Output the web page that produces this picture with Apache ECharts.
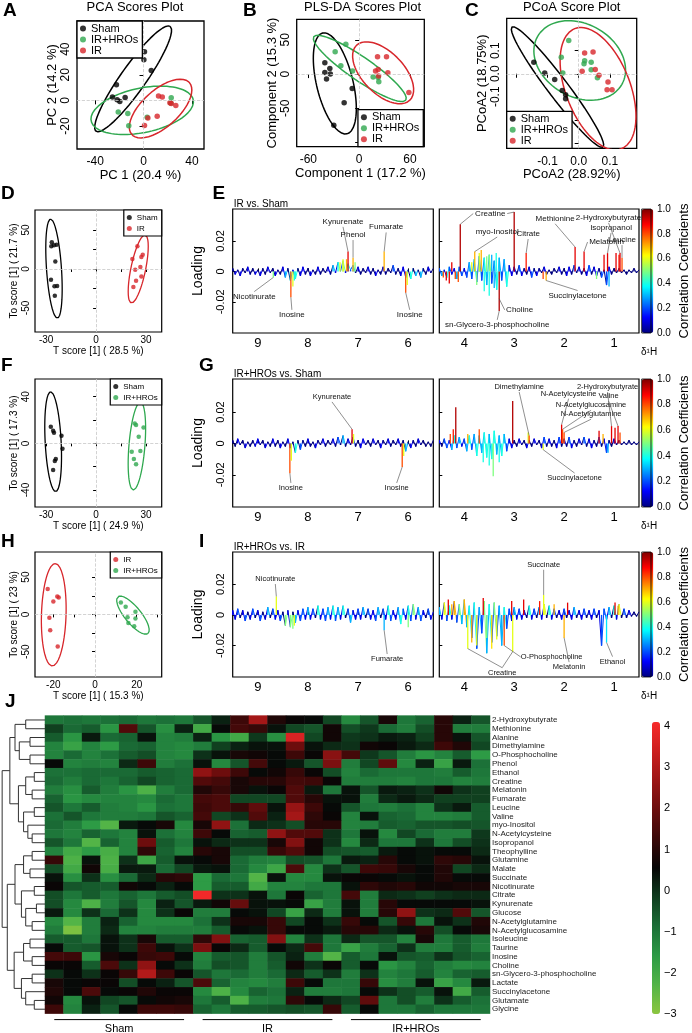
<!DOCTYPE html>
<html>
<head>
<meta charset="utf-8">
<script src="https://cdn.jsdelivr.net/npm/echarts@6/dist/echarts.min.js"></script>
<style>
  html, body { margin: 0; padding: 0; background: #fff; }
  #main { width: 692px; height: 1033px; }
</style>
</head>
<body>
<div id="main"></div>
<script>
var FONT = 'Liberation Sans';

// ---------- score plots (A, B, C, D, F, H) ----------
var pcaSham = [[0.8,38],[0.3,31.8],[6.4,23.3],[-22.4,12.1],[-25.7,2.6],[-21.8,0.5],[-19.6,-0.8],[-15.2,2.3]];
var pcaHro = [[-20.9,-9.0],[-13,-10.3],[-12.2,-19.9],[3,-13.2],[22.9,2.1],[22.4,-2.1]];
var pcaIr = [[12.4,3.4],[15.5,2.6],[21.8,-1.8],[23,-2.4],[26.7,-4.1],[11.3,-12.4],[3.6,-13.7],[0.8,-19.6]];
// ellipse: centre x, centre y, semi-axis vector a, semi-axis vector b
var pcaShamEll = [-8.6,16.8,30.6,41.0,8.6,-5.6];
var pcaHroEll = [-1.1,-7.8,42.2,8.3,3.8,-17];
var pcaIrEll = [14.1,-6.4,23.7,20.4,10.3,-10.5];

var plsSham = [[-40.5,16.5],[-34.6,8.3],[-40.5,2.4],[-34,0],[-38.5,-7.3],[-8.2,-21],[-17.7,-42],[-29.9,-74.6]];
var plsHro = [[-15.7,43.4],[-28.3,32.6],[-21.6,12.1],[-7.8,4.4],[16.5,-4.4],[22.4,-4.9],[23.2,-11.2]];
var plsIr = [[21.7,25.3],[32.3,25.3],[19.4,4.4],[22.5,6.8],[33.9,1.9],[22.9,-2.9],[58.7,-26.8]];
var plsShamEll = [-28.7,-13.6,14.4,-73.6,20.9,6.3];
var plsHroEll = [0.8,8.3,54.3,-46.3,-7.8,-14];
var plsIrEll = [28.3,1.9,31.5,-40,17.5,21.1];

var pcoaSham = [[-0.144,0.05],[-0.109,0.003],[-0.077,-0.025],[-0.053,-0.073],[-0.042,-0.091],[-0.042,-0.109],[-0.036,-0.178]];
var pcoaHro = [[-0.032,0.145],[-0.056,0.072],[-0.051,0.003],[0.017,0.043],[0.019,0.057],[0.04,0.05],[0.04,0.017],[0.06,-0.017]];
var pcoaIr = [[0.019,0.09],[0.046,0.094],[0.011,0.011],[0.053,0.019],[0.065,-0.007],[0.094,-0.036],[0.091,-0.07],[0.107,-0.07]];
var pcoaShamEll = [-0.068,-0.058,0.146,-0.261,0.0255,0.0264];
var pcoaHroEll = [0.0032,0.0578,0.139,-0.094,0.048,0.145];
var pcoaIrEll = [0.062,-0.065,0.0748,-0.261,0.096,0.051];

var oplsDSham = [[-26.6,34.1],[-26.9,29],[-25.3,30.3],[-23.7,31.2],[-24.5,9.7],[-27.1,-13.7],[-25,-22.3],[-23.4,-21.8],[-24.8,-34.2]];
var oplsDIr = [[24.8,29],[28,18.3],[27.2,15.4],[21.8,12.8],[26.6,2.6],[23.5,-0.9],[27.2,-9.5],[24,-15],[22.4,-23]];
var oplsDShamEll = [-25.3,0.4,-2.0,63.5,4.5,0];
var oplsDIrEll = [25.3,0,4.0,43.6,4.5,0];

var oplsFSham = [[-27.2,14.2],[-25.8,10.8],[-25.3,9.1],[-20.8,6.5],[-20.2,-4.6],[-24.2,-13.5],[-24.8,-15.2],[-25.8,-22.9]];
var oplsFHro = [[23.2,17.1],[24,15.7],[28.5,13.7],[25.6,5.7],[21.4,-7.2],[26.6,-6.6],[22.7,-13.5],[24,-18]];
var oplsFShamEll = [-25.8,1.4,-1.5,42.8,4.8,0];
var oplsFHroEll = [24.5,-2.3,2.1,37.7,4.8,0];

var oplsHIr = [[-22.7,34.1],[-18.1,24],[-20,17.2],[-17.4,22.6],[-21.9,-4.6],[-21.5,-21.4],[-17.9,-43.2]];
var oplsHHro = [[12.4,15.8],[14.7,10.4],[19.4,3.5],[15.6,-3.7],[19.4,-5.5],[16,-11.5],[18.8,-16]];
var oplsHIrEll = [-19.8,-0.5,0.7,68.7,5.9,0];
var oplsHHroEll = [18.2,-1,7.2,-24.6,3.0,7.0];

// ---------- loading plots (E, G, I): baseline in 0.001 units, corr in tenths, 0.05 ppm apart ----------
var eNoiseL = [2,-2,1,-3,2,-1,3,-2,2,-2, 1,-3,2,-2,3,-1,2,-3,1,-2, 3,-4,2,-6,1,-5,2,-3,3,-2, 2,-3,1,-2,3,-2,2,-1,3,-2,
  4,-1,6,0,7,-1,5,1,4,-1, 3,-2,2,-1,3,-2,2,-3,1,-2, 3,-2,2,-1,4,-2,2,-3,3,-4, 1,-5,2,-3,1,-4,2,-2,3,-1, 2];
var eCorrL = [0,1,0,1,0,0,1,0,0,1, 0,1,0,0,1,0,0,1,0,0, 1,3,0,4,1,4,0,1,1,0, 0,1,0,0,1,0,0,0,1,0,
  3,1,4,2,5,1,4,2,3,0, 1,0,0,0,1,0,0,1,0,0, 1,0,0,0,2,0,0,1,1,3, 0,4,0,3,0,3,0,0,1,0, 0];
var eNoiseR = [2,-3,1,-4,3,-2,2,-5,3,-3, 2,-4,6,-5,8,-7,10,-6,9,-9, 11,-8,7,-12,9,-6,8,-10,4,-3, 3,-2,4,-3,2,-2,3,-4,2,-3,
  2,-1,3,-2,1,-2,2,-1,3,-2, 2,-3,3,-2,4,-1,3,-2,2,-3, 4,-2,3,-3,2,-4,1,-9,3,-2, 2,-1,2,-1,1,-2,1,-1,2,-1, 1];
var eCorrR = [2,3,1,4,2,1,1,3,2,2, 1,2,3,2,4,2,3,2,4,3, 5,2,3,4,3,2,3,4,1,1, 1,0,2,1,0,0,1,2,0,1,
  0,0,1,0,0,0,0,0,1,0, 0,1,1,0,2,0,1,0,0,1, 2,0,1,1,0,2,0,2,1,0, 0,0,0,0,0,0,0,0,0,0, 0];
var ePeaksL = [[8.69,-0.004,0.5],[8.34,-0.017,0.8],[8.3,-0.01,0.6],[8.27,-0.006,0.4],[7.36,0.006,0.6],[7.3,0.008,0.6],
  [7.23,0.008,0.7],[7.2,0.013,0.9],[7.1,0.009,0.7],[7.06,0.006,0.5],[6.48,0.013,0.7],[6.05,-0.014,0.8],[6.02,-0.009,0.6]];
var ePeaksR = [[4.42,-0.004,0.8],[4.36,-0.006,0.9],[4.3,-0.008,0.9],[4.25,0.006,0.9],[4.18,-0.005,0.8],[4.12,-0.007,0.8],
  [4.08,0.031,0.95],[3.85,0.006,0.6],[3.79,0.013,0.7],[3.75,-0.009,0.5],[3.7,0.012,0.6],[3.66,0.014,0.7],[3.6,-0.013,0.4],
  [3.55,0.01,0.5],[3.5,-0.016,0.4],[3.45,0.011,0.3],[3.4,-0.011,0.3],[3.36,0.012,0.4],[3.3,-0.026,0.95],[3.0,0.039,0.95],
  [2.76,0.012,0.85],[2.42,-0.005,0.8],[2.36,-0.006,0.7],[1.78,0.016,0.9],[1.6,0.013,0.9],[1.35,-0.005,0.5],
  [1.2,0.011,0.9],[1.13,0.012,0.9],[1.1,-0.01,0.3],[0.96,0.012,0.9],[0.9,0.011,0.85],[0.88,0.012,0.9],[0.84,0.009,0.8]];
// name, peak ppm, peak loading, label ppm, label loading ('~' = leader only)
var eLabelsL = [['Nicotinurate',8.69,-0.004,9.07,-0.0167],['Inosine',8.34,-0.017,8.32,-0.0287],['Kynurenate',7.2,0.013,7.3,0.0327],
  ['Phenol',7.1,0.009,7.1,0.024],['Fumarate',6.48,0.013,6.44,0.029],['Inosine',6.05,-0.014,5.97,-0.0287]];
var eLabelsR = [['Creatine',4.08,0.031,3.48,0.038],['~Creatine',3.0,0.039,3.48,0.038],['myo-Inositol',3.79,0.013,3.34,0.026],
  ['Citrate',2.76,0.012,2.72,0.0247],['Methionine',1.78,0.016,2.18,0.0347],['2-Hydroxybutyrate',0.88,0.012,1.11,0.0353],
  ['Isopropanol',1.13,0.012,1.06,0.0287],['Melatonin',1.6,0.013,1.15,0.0193],['Leucine',0.84,0.009,0.84,0.0207],
  ['Choline',3.3,-0.018,2.89,-0.0253],['sn-Glycero-3-phosphocholine',3.3,-0.026,3.34,-0.0353],['Succinylacetone',2.36,-0.006,1.73,-0.016]];

var gNoiseL = [2,-2,3,-1,2,-3,1,-2,2,-2, 3,-1,2,-3,1,-2,3,-2,2,-3, 1,-2,3,-3,1,-6,2,-4,2,-2, 3,-2,1,-3,2,-1,3,-2,2,-1,
  3,-2,4,-1,5,-2,3,-1,4,-2, 2,-3,3,-1,2,-2,3,-1,2,-3, 2,-1,3,-2,2,-1,3,-2,2,-5, 1,-3,2,-2,3,-1,2,-2,1,-2, 2];
var gCorrL = [0,0,1,0,0,1,0,0,0,1, 1,0,0,1,0,0,1,0,0,1, 0,0,1,2,0,4,0,2,0,0, 1,0,0,1,0,0,1,0,0,0,
  1,0,2,0,3,0,1,0,2,0, 0,1,1,0,0,0,1,0,0,1, 0,0,1,0,0,0,1,0,0,3, 0,1,0,0,1,0,0,0,0,0, 0];
var gNoiseR = [2,-2,3,-3,2,-4,5,-3,4,-2, 3,-5,5,-4,6,-8,5,-6,7,-9, 6,-10,8,-7,5,-8,6,-5,3,-3, 2,-2,3,-1,2,-3,2,-2,3,-1,
  2,-3,4,-2,3,-2,2,-3,4,-2, 3,-2,4,-3,2,-2,3,-1,4,-2, 3,-3,2,-2,4,-2,3,-6,2,-2, 3,-1,2,-1,1,-1,2,-1,1,-1, 1];
var gCorrR = [1,0,2,2,1,3,4,2,3,1, 2,3,4,2,3,4,3,3,4,4, 3,4,4,3,3,4,3,2,1,1, 0,0,1,0,0,1,0,0,1,0,
  0,1,2,0,1,0,0,1,2,0, 1,0,2,1,0,0,1,0,2,0, 1,1,0,0,2,0,1,2,0,0, 1,0,0,0,0,0,0,0,0,0, 0];
var gPeaksL = [[8.36,-0.019,0.8],[8.33,-0.011,0.6],[7.12,0.009,0.9],[7.09,0.006,0.6],[6.12,-0.015,0.8],[6.09,-0.008,0.6]];
var gPeaksR = [[4.28,0.006,0.8],[4.22,0.009,0.85],[4.17,0.023,0.95],[3.93,0.006,0.7],[3.7,0.009,0.8],[3.62,-0.012,0.4],
  [3.5,-0.014,0.4],[3.42,-0.021,0.5],[3.3,-0.012,0.4],[3.03,0.027,0.95],[2.72,0.007,0.6],[2.7,0.005,0.8],[2.42,-0.004,0.6],
  [2.05,0.012,0.9],[2.03,0.009,0.8],[2.0,0.007,0.8],[1.3,0.008,0.9],[1.22,0.006,0.7],[1.12,-0.006,0.3],[1.05,0.011,0.9],
  [0.98,0.01,0.9],[0.92,0.011,0.9],[0.88,0.007,0.8]];
var gLabelsL = [['Kynurenate',7.12,0.009,7.52,0.0295],['Inosine',8.36,-0.019,8.34,-0.0283],['Inosine',6.12,-0.015,6.23,-0.0283]];
var gLabelsR = [['Dimethylamine',2.7,0.005,2.9,0.0358],['N-Acetylcysteine',2.05,0.012,1.91,0.0316],
  ['N-Acetylglucosamine',2.03,0.009,1.46,0.0242],['N-Acetylglutamine',2.0,0.007,1.46,0.0185],
  ['2-Hydroxybutyrate',1.05,0.011,1.13,0.0358],['Valine',0.92,0.011,1.11,0.030],['Succinylacetone',2.42,-0.004,1.79,-0.022]];

var iNoiseL = [3,-3,4,-2,3,-4,2,-3,4,-2, 3,-4,2,-3,5,-2,4,-3,3,-4, 2,-7,3,-8,2,-5,3,-4,4,-3, 5,-3,4,-2,6,-3,4,-4,5,-3,
  6,-4,5,-3,6,-2,4,-5,3,-3, 4,-3,5,-2,4,-3,3,-4,5,-2, 4,-3,6,-4,3,-3,5,-6,4,-3, 6,-4,7,-3,5,-4,3,-2,4,-3, 2];
var iCorrL = [1,1,2,0,1,2,0,1,2,0, 1,2,0,1,3,0,2,1,1,2, 0,5,1,5,0,3,1,2,2,1, 3,1,2,0,4,1,2,2,3,1,
  4,2,3,1,4,0,2,3,1,1, 2,1,3,0,2,1,1,2,3,0, 2,1,4,2,1,1,3,4,2,1, 4,2,5,1,3,2,1,0,2,1, 0];
var iNoiseR = [5,-3,8,-4,6,-3,9,-5,7,-6, 10,-8,6,-15,8,-22,5,-12,9,-25, 7,-18,8,-14,6,-20,5,-9,4,-4, 5,-3,4,-3,3,-2,6,-3,4,-2,
  5,-3,7,-2,6,-3,4,-2,3,-3, 4,-2,3,-3,5,-2,3,-3,4,-2, 3,-3,4,-2,3,-20,4,-3,5,-2, 6,-3,7,-2,4,-2,3,-1,2,-1, 2];
var iCorrR = [3,1,6,2,4,1,7,2,5,3, 7,3,4,2,4,2,3,2,5,3, 4,2,5,2,3,3,4,2,2,1, 3,1,2,1,1,0,4,1,2,0,
  3,1,6,0,4,1,2,0,1,1, 2,0,1,1,3,0,1,1,2,0, 1,1,2,0,1,2,2,1,3,0, 4,1,6,0,2,0,1,0,0,0, 0];
var iPeaksL = [[8.63,0.012,0.6],[8.3,-0.009,0.5],[8.27,-0.007,0.6],[6.48,-0.01,0.3],[6.0,-0.008,0.5]];
var iPeaksR = [[4.32,0.010,0.9],[4.25,0.007,0.7],[3.93,-0.022,0.6],[3.85,-0.018,0.7],[3.75,-0.02,0.6],[3.62,0.011,0.9],
  [3.55,-0.015,0.5],[3.45,-0.022,0.65],[3.35,-0.016,0.6],[3.2,-0.02,0.8],[3.05,0.009,0.9],[3.03,-0.024,0.6],[2.81,0.01,0.9],
  [2.49,0.009,0.85],[2.41,0.013,0.6],[2.2,0.007,0.7],[2.0,-0.015,0.7],[1.93,0.008,0.9],[1.15,-0.018,0.35],[0.98,0.008,0.9],
  [0.92,0.006,0.7]];
var iLabelsL = [['Nicotinurate',8.63,0.012,8.65,0.0233],['Fumarate',6.48,-0.01,6.42,-0.0287]];
var iLabelsR = [['Succinate',2.41,0.013,2.41,0.0326],['Creatine',3.93,-0.022,3.24,-0.0376],['~Creatine',3.03,-0.024,3.24,-0.0376],
  ['O-Phosphocholine',3.2,-0.02,2.25,-0.0274],['Melatonin',2.0,-0.015,1.9,-0.034],['Ethanol',1.15,-0.018,1.03,-0.0304]];

// ---------- heatmap (J) ----------
var metabolites = ['2-Hydroxybutyrate','Methionine','Alanine','Dimethylamine','O-Phosphocholine','Phenol','Ethanol',
  'Creatine','Melatonin','Fumarate','Leucine','Valine','myo-Inositol','N-Acetylcysteine','Isopropanol','Theophylline',
  'Glutamine','Malate','Succinate','Nicotinurate','Citrate','Kynurenate','Glucose','N-Acetylglutamine',
  'N-Acetylglucosamine','Isoleucine','Taurine','Inosine','Choline','sn-Glycero-3-phosphocholine','Lactate',
  'Succinylacetone','Glutamate','Glycine'];
var groupNames = ['Sham','IR','IR+HROs'];
var perGroup = 8;
var heatValues = [
  [-1,-0.9,-1,-0.9,-0.8,-1,-0.9,-1, -0.5,0.2,1.3,2.8,0.9,0.6,0.5,-0.3, -1.3,-0.5,0.8,-1.0,-0.7,1.0,0.2,-0.5],
  [-0.2,-0.8,-0.6,-1.5,1.6,-0.5,-1.4,0.2, -2.0,0.5,1.4,1.2,0.4,-0.3,-0.5,0.7, -0.4,-0.1,-0.8,-1.1,-0.4,1.0,-1.1,-1.1],
  [-0.6,-1.5,0.3,-0.8,-0.7,0.4,-1.2,-1.1, 0.2,-1.5,-2.0,-0.1,-1.4,3.6,-0.3,0.7, -0.1,0,0.3,0.2,-0.2,1.0,0.4,-0.5],
  [-1.2,-1.8,-1.2,-1.6,-0.8,-0.7,-1.2,-1.3, -1.1,-0.2,0.2,0.4,0.4,2.0,0.4,0.1, 0.0,0.7,0.6,0.3,0.1,1.3,0.9,-0.3],
  [-1.2,-0.8,-1.2,-0.9,-0.6,-0.4,-1.2,-1.3, 0,0.4,0.8,0.7,0.5,1.3,0.6,2.4, 1.4,-0.1,-0.5,-1.1,-1.5,-1.2,-0.6,-1.6],
  [0.5,-1.2,-1.1,-1.2,0.1,1.3,-1.1,-0.9, 0.4,-1.3,-0.5,1.4,0.5,0.3,-0.5,2.2, -1.1,-0.3,1.8,-1.3,0.2,-1.8,0.3,-0.9],
  [-0.9,-0.9,-0.8,-0.8,-0.8,-0.6,-0.7,-0.8, 2.5,2.0,1.3,0.5,0.7,1.2,0.6,-0.4, -1.2,-0.8,-1.0,-1.0,-1.0,-1.1,-0.6,-1.0],
  [-0.8,-1.1,-0.8,-1.0,-0.7,-0.3,-0.7,-0.8, 1.6,1.4,0.8,1.0,1.0,1.4,1.3,0.6, -1.1,-1.1,-1.1,-1.2,-1.0,-1.0,-1.2,-1.1],
  [-1.1,-1.4,-0.6,-1.1,-1.5,-2.2,-1.1,-0.8, 0.9,1.2,0.8,0.4,0.6,1.6,0.3,-1.0, 0.4,-0.5,0.3,0.2,0,0.7,0.0,-0.2],
  [-0.7,-1.5,-1.3,-1.2,-1.2,-1.3,-0.8,-1.0, 1.4,1.5,-0.3,-0.3,-0.3,1.6,1.0,0.4, 0.4,-1.1,0.1,0.3,0.1,-0.2,-0.2,-0.2],
  [-0.5,-1.0,-0.6,-1.1,-1.2,-1.5,-0.9,-1.0, 1.3,1.5,1.2,1.8,0.4,2.6,1.3,0.5, -0.5,-1.0,-1.1,-0.9,-1.2,0.0,0.3,-0.6],
  [-0.9,-0.5,-1.0,-1.1,-1.1,-1.0,-0.5,-0.7, 1.4,-0.3,0.0,1.6,0.2,2.8,1.1,0.6, -1.2,0.4,-0.7,-0.8,-1.2,-1.2,-1.1,-0.6],
  [-0.8,-1.1,-1.6,-2.3,0.3,0.5,0.8,-1.3, 0.8,2.5,-0.9,0.1,0,-0.4,1.0,1.0, -1.2,-1.1,-0.6,-0.7,-0.5,-0.5,-0.4,-0.5],
  [-1.0,-1.2,-0.7,-1.0,-1.2,0.4,-0.9,-1.2, 1.3,0.5,-0.7,-0.6,2.5,1.6,1.6,0, -1.0,0.4,-1.3,-0.3,-0.8,-1.1,-1.1,-0.1],
  [-0.5,-1.0,-2.3,-0.7,-1.2,2.0,-0.6,-1.0, 0.4,0.1,0.0,0.0,0.8,2.3,0.7,0.0, -1.3,0.1,-1.0,-1.0,0.0,-1.0,-0.4,0.0],
  [-1.2,-2.0,-1.6,-2.1,-1.2,1.1,-0.7,-1.2, 1.0,0.8,-0.4,-0.4,1.2,1.6,0.7,-0.4, -0.5,-0.6,0.3,0.5,0.4,0.5,0.5,0.1],
  [1.2,-2.2,0.4,-2.2,0,-1.9,-0.6,0.4, 0.5,0.8,-0.8,-1.1,-1.2,-0.4,-0.5,-1.0, 0.3,0.2,1.0,0.5,0.4,1.1,1.0,0.4],
  [-0.4,-2.0,0.7,-2.1,0.3,0.3,-0.8,-0.3, 0.3,0.4,-0.8,-1.3,-1.9,1.5,-1.3,0.0, -0.5,1.3,1.2,0.8,0.5,0.9,-0.3,0.1],
  [0.4,-1.4,0.0,-1.4,-0.8,0.1,1.0,1.1, -1.6,-0.8,-1.0,-2.3,0.4,-1.3,-1.3,0.4, 0.6,0.6,0.5,0.4,0.5,0.9,0.5,0.5],
  [0.6,-0.5,-0.6,-0.6,0.7,0.5,0.2,0.5, -1.6,-0.6,-0.6,-2.0,-1.2,-1.2,-1.0,-1.0, 0.4,1.1,0.9,1.0,0.7,0.7,0.8,0.8],
  [-0.4,-1.0,-0.6,-1.0,-0.7,-1.0,-0.6,-0.4, 4.0,0.0,0.0,0.4,-1.0,0.6,-0.7,-1.0, 1.4,-1.1,0.1,0,-0.2,0,0.1,0.1],
  [-0.4,-1.3,-2.2,-1.1,-0.5,-1.3,0.2,-0.5, 0.3,0.7,1.9,0.4,0.4,0.5,-1.8,-1.1, 0.4,-1.1,1.0,0.5,0.5,0.5,0.5,0.4],
  [0.3,-1.3,0.0,-0.8,0.0,-1.3,0.0,0.6, -1.1,-1.1,0.5,0.4,-0.3,-1.8,0.1,-1.1, 0.4,-1.1,1.0,2.5,0.0,0.1,1.6,-0.5],
  [-1.3,-2.3,-1.1,0.2,-0.7,-1.3,-1.3,-1.3, -0.9,0.0,0.8,0.8,1.2,-0.3,0.5,0.0, 1.2,0.5,-0.5,1.2,-1.0,0.4,0.0,0.9],
  [-1.1,-2.8,-1.1,0.1,-1.2,-1.2,-1.1,-1.1, -1.1,-0.6,0.5,0.4,1.2,0.5,0.5,0.3, 1.0,1.0,0.1,0.4,1.0,-0.4,0.5,0.8],
  [-0.6,-0.6,-1.0,0.4,0,0.8,-0.6,-0.6, 1.1,2.3,-0.7,-0.6,2.3,-1.2,0,-1.0, 0.1,-0.5,-0.5,-1.2,0.8,-1.0,-0.6,-1.0],
  [0.5,-0.6,-0.5,0.4,0,1.3,0.4,0, 2.2,0.6,0.1,-0.6,0.5,0.1,1.4,-1.0, -1.8,-1.1,-0.7,0.0,-1.1,-1.1,-0.6,-1.1],
  [1.4,1.3,-1.5,0.8,0.6,1.2,1.3,0.5, -1.2,-0.6,-0.5,-1.1,-0.5,0.2,-1.1,-2.3, -0.6,-1.0,0.4,-0.5,-0.6,0.0,-0.5,-0.7],
  [0.6,0.6,-0.6,1.5,0.0,2.5,0.5,0.0, -1.1,-0.4,-0.5,-1.1,-0.6,0.7,0.0,0.6, -0.6,0.5,-1.5,-1.2,-0.7,-1.1,-1.3,-1.2],
  [0.0,0.5,0.0,0.6,1.2,3.0,1.3,0.6, -0.5,-1.0,-0.8,-1.1,-0.8,0.1,-0.6,0.0, -1.1,0.0,-1.2,-1.0,-0.6,-1.2,-0.7,-0.6],
  [0.8,0.5,0.6,0.6,-0.4,0.5,0.2,-0.5, 1.5,-0.7,-1.2,-1.3,-1.1,1.3,0.5,-1.0, -1.0,1.2,-1.4,-1.1,0.4,-1.8,-1.3,0.3],
  [0.9,0.5,1.5,0.5,0.6,0.9,0.6,0.6, -1.3,-2.2,-1.3,-0.7,-0.9,0.2,-1.1,-1.1, -1.0,0.5,0.0,-0.4,-0.6,0.4,-2.0,-0.6],
  [0.7,-1.3,0.4,-0.3,-0.5,0.5,0.7,0.8, -1.0,-0.6,-2.2,-1.1,-1.0,1.1,0.5,0.1, -0.3,1.8,-1.0,-0.4,-1.1,0.0,-0.6,-0.9],
  [1.3,-1.2,0.2,-0.5,0.5,1.3,1.3,1.2, -0.7,-1.0,-0.6,-0.6,-0.5,-0.4,-0.5,1.2, -0.6,0.5,-1.0,-1.0,-0.7,-1.0,-1.0,-1.0]
];
// dendrogram: [height, left, right], leaves are row numbers
var dendroTree = [1.0,
  [0.82,
    [0.7, [0.45,1,2], [0.6,[0.35,3,4],[0.35,5,6]]],
    [0.62, [0.45,[0.25,7,8],[0.3,9,10]], [0.5,[0.25,11,12],[0.4,13,[0.3,14,15]]]]],
  [0.88,
    [0.7, [0.5,[0.3,16,17],[0.35,18,19]], [0.55,[0.25,20,21],[0.45,[0.2,22,23],[0.3,24,25]]]],
    [0.72, [0.5,[0.35,26,27],[0.3,28,29]], [0.55,[0.3,30,31],[0.45,32,[0.25,33,34]]]]]];

var COLORS = {'Sham': '#000000', 'IR+HROs': '#2fa84f', 'IR': '#d7262b'};
var JET = ['#00007f','#0000ff','#007fff','#00ffff','#7fff7f','#ffff00','#ff7f00','#ff0000','#7f0000'];
var HEAT = ['#8cc63f','#52b447','#2c9a45','#1b6f37','#0f3d1e','#060606','#3a0808','#6b0d0d','#9c1515','#cc1f1f','#f72b2b'];
var STEP = 0.05;

var grids = [], xAxes = [], yAxes = [], series = [], visualMaps = [], legends = [], graphics = [];

function txt(size, extra) {
  return Object.assign({ fontSize: size, color: '#000', fontFamily: FONT }, extra || {});
}
function addPanel(g, x, y) {
  var gi = grids.length;
  grids.push(g);
  x.gridIndex = gi; y.gridIndex = gi;
  xAxes.push(x); yAxes.push(y);
  return gi;
}
function addSeries(s) { series.push(s); return series.length - 1; }
function gtext(s, x, y, font, align, rot) {
  return { type: 'text', x: x, y: y, rotation: rot || 0, silent: true,
    style: { text: s, font: font, fill: '#000', textAlign: align || 'left', textVerticalAlign: 'middle',
      align: align || 'left', verticalAlign: 'middle' } };
}
function ellipse(e) {
  var pts = [];
  for (var k = 0; k <= 90; k++) {
    var t = k / 90 * 2 * Math.PI;
    pts.push([e[0] + e[2] * Math.cos(t) + e[4] * Math.sin(t), e[1] + e[3] * Math.cos(t) + e[5] * Math.sin(t)]);
  }
  return pts;
}

function scorePanel(c) {
  var gi = addPanel(
    { left: c.box[0], top: c.box[1], width: c.box[2], height: c.box[3], show: true, borderColor: '#000', borderWidth: c.bw },
    { type: 'value', min: c.xr[0], max: c.xr[1], splitLine: { show: false }, axisLine: { show: false },
      axisTick: { show: true, length: c.tl, customValues: c.xTicks, lineStyle: { color: '#000' } },
      axisLabel: { customValues: c.xLabels, margin: c.xm, formatter: c.fmt, fontSize: c.fs, color: '#000', fontFamily: FONT },
      name: c.xName, nameLocation: 'middle', nameGap: c.xGap, nameTextStyle: txt(c.nfs) },
    { type: 'value', min: c.yr[0], max: c.yr[1], splitLine: { show: false }, axisLine: { show: false },
      axisTick: { show: true, length: c.tl, customValues: c.yTicks, lineStyle: { color: '#000' } },
      axisLabel: { customValues: c.yLabels, rotate: 90, margin: c.ym, formatter: c.fmt, fontSize: c.fs, color: '#000', fontFamily: FONT },
      name: c.yName, nameLocation: 'middle', nameGap: c.yGap, nameTextStyle: txt(c.nfs) });
  c.groups.forEach(function (g, k) {
    var s = { type: 'scatter', name: g[0], xAxisIndex: gi, yAxisIndex: gi, data: g[1], symbolSize: c.ps,
      itemStyle: { color: COLORS[g[0]] }, silent: true, z: 3 };
    if (k === 0) {
      s.markLine = { silent: true, symbol: 'none', label: { show: false }, animation: false,
        lineStyle: { color: '#c8c8c8', type: 'dashed', width: 0.8 }, data: [{ xAxis: 0 }, { yAxis: 0 }] };
    }
    addSeries(s);
    addSeries({ type: 'line', name: g[0] + ' ellipse', xAxisIndex: gi, yAxisIndex: gi, data: ellipse(g[2]),
      symbol: 'none', lineStyle: { color: COLORS[g[0]], width: c.lw }, silent: true, z: 2 });
  });
  legends.push(Object.assign({ orient: 'vertical', data: c.legend, icon: 'circle', itemWidth: c.iw, itemHeight: c.iw,
    itemGap: 0, selectedMode: false, padding: c.pad, borderColor: '#000', borderWidth: c.bw, backgroundColor: '#fff',
    textStyle: txt(c.lfs, { lineHeight: c.llh }), z: 10 }, c.legendPos));
}

var big = { bw: 1.3, fs: 12, nfs: 13, xm: 7, ym: 5, xGap: 18, yGap: 17, tl: 4, ps: 5.5, lw: 1.5, iw: 6, lfs: 11, llh: 9, pad: [2, 4, 2, 3] };
var small = { bw: 1.2, fs: 10, nfs: 10, xm: 3, ym: 4, xGap: 14, yGap: 16, tl: 3, ps: 4.5, lw: 1.3, iw: 5, lfs: 8, llh: 11, pad: [2, 4, 2, 3] };
var fmt1 = function (v) { return v.toFixed(1); };

scorePanel(Object.assign({}, big, { box: [77, 21, 127, 128], xr: [-55, 50], yr: [-38, 62],
  xTicks: [-40, 0, 40], xLabels: [-40, 0, 40], yTicks: [-20, 0, 20, 40], yLabels: [-20, 0, 20, 40],
  xName: 'PC 1 (20.4 %)', yName: 'PC 2 (14.2 %)',
  groups: [['Sham', pcaSham, pcaShamEll], ['IR+HROs', pcaHro, pcaHroEll], ['IR', pcaIr, pcaIrEll]],
  legend: ['Sham', 'IR+HROs', 'IR'], legendPos: { left: 77, top: 21 } }));
scorePanel(Object.assign({}, big, { box: [296.7, 19.3, 127.6, 127.4], xr: [-73.7, 76.9], yr: [-106, 80],
  xTicks: [-60, 0, 60], xLabels: [-60, 0, 60], yTicks: [-100, -50, 0, 50], yLabels: [-50, 0, 50],
  xName: 'Component 1 (17.2 %)', yName: 'Component 2 (15.3 %)',
  groups: [['Sham', plsSham, plsShamEll], ['IR+HROs', plsHro, plsHroEll], ['IR', plsIr, plsIrEll]],
  legend: ['Sham', 'IR+HROs', 'IR'], legendPos: { right: 268.7, bottom: 886.3 } }));
scorePanel(Object.assign({}, big, { box: [506.7, 18.3, 130, 130], xr: [-0.231, 0.186], yr: [-0.324, 0.241],
  xTicks: [-0.2, -0.1, 0, 0.1], xLabels: [-0.1, 0, 0.1], yTicks: [-0.3, -0.2, -0.1, 0, 0.1], yLabels: [-0.1, 0, 0.1],
  fmt: fmt1, xName: 'PCoA2 (28.92%)', yName: 'PCoA2 (18.75%)',
  groups: [['Sham', pcoaSham, pcoaShamEll], ['IR+HROs', pcoaHro, pcoaHroEll], ['IR', pcoaIr, pcoaIrEll]],
  legend: ['Sham', 'IR+HROs', 'IR'], legendPos: { left: 506.7, bottom: 884.7 } }));

scorePanel(Object.assign({}, small, { box: [35, 210, 126.7, 122], xr: [-36.7, 39.4], yr: [-80.8, 75.6],
  xTicks: [-30, -15, 0, 15, 30], xLabels: [-30, 0, 30], yTicks: [-50, -25, 0, 25, 50], yLabels: [-50, 0, 50],
  xName: 'T score [1] ( 28.5 %)', yName: 'To score [1] ( 21.7 %)',
  groups: [['Sham', oplsDSham, oplsDShamEll], ['IR', oplsDIr, oplsDIrEll]],
  legend: ['Sham', 'IR'], legendPos: { right: 530.3, top: 210 } }));
scorePanel(Object.assign({}, small, { box: [35, 379, 126.7, 128], xr: [-36.7, 39.4], yr: [-54.6, 55.2],
  xTicks: [-30, -15, 0, 15, 30], xLabels: [-30, 0, 30], yTicks: [-40, -20, 0, 20, 40], yLabels: [-40, 0, 40],
  xName: 'T score [1] ( 24.9 %)', yName: 'To score [1] ( 17.3 %)',
  groups: [['Sham', oplsFSham, oplsFShamEll], ['IR+HROs', oplsFHro, oplsFHroEll]],
  legend: ['Sham', 'IR+HROs'], legendPos: { right: 530.3, top: 379 } }));
scorePanel(Object.assign({}, small, { box: [35, 552, 126.7, 125], xr: [-28.8, 32], yr: [-84, 83.7],
  xTicks: [-20, -10, 0, 10, 20, 30], xLabels: [-20, 0, 20], yTicks: [-50, -25, 0, 25, 50], yLabels: [-50, 0, 50],
  xName: 'T score [1] ( 15.3 %)', yName: 'To score [1] ( 23 %)',
  groups: [['IR', oplsHIr, oplsHIrEll], ['IR+HROs', oplsHHro, oplsHHroEll]],
  legend: ['IR', 'IR+HROs'], legendPos: { right: 530.3, top: 552 } }));

// ---------- loading panels ----------
function noiseSeries(gi, start, vals, corr) {
  var data = [];
  for (var i = 0; i < vals.length - 1; i++) {
    data.push([start - i * STEP, vals[i] / 1000, corr[i] / 10, start - (i + 1) * STEP, vals[i + 1] / 1000]);
  }
  return { type: 'custom', xAxisIndex: gi, yAxisIndex: gi, data: data, encode: { x: [0, 3], y: [1, 4] }, clip: true, silent: true,
    renderItem: function (params, api) {
      var a = api.coord([api.value(0), api.value(1)]), b = api.coord([api.value(3), api.value(4)]);
      var z = api.coord([api.value(0), 0]);
      var col = api.visual('color');
      return { type: 'group', children: [
        { type: 'line', shape: { x1: z[0], y1: z[1], x2: a[0], y2: a[1] }, style: { stroke: col, lineWidth: 1.4 } },
        { type: 'line', shape: { x1: a[0], y1: a[1], x2: b[0], y2: b[1] }, style: { stroke: col, lineWidth: 1 } }] };
    } };
}
function peakSeries(gi, peaks) {
  return { type: 'custom', xAxisIndex: gi, yAxisIndex: gi, data: peaks, encode: { x: 0, y: 1 }, clip: true, silent: true, z: 3,
    renderItem: function (params, api) {
      var a = api.coord([api.value(0), 0]), b = api.coord([api.value(0), api.value(1)]);
      return { type: 'line', shape: { x1: a[0], y1: a[1], x2: b[0], y2: b[1] }, style: { stroke: api.visual('color'), lineWidth: 1.3 } };
    } };
}
function labelSeries(gi, labels, fs) {
  return { type: 'custom', xAxisIndex: gi, yAxisIndex: gi, silent: true, clip: false, z: 4,
    data: labels.map(function (l) { return [l[1], l[2], l[3], l[4]]; }), encode: { x: [0, 2], y: [1, 3] },
    renderItem: function (params, api) {
      var l = labels[params.dataIndex];
      var name = l[0].replace('~', '');
      var p = api.coord([l[1], l[2]]), t = api.coord([l[3], l[4]]);
      var w = name.length * fs * 0.5;
      var end;
      if (Math.abs(t[0] - p[0]) > w / 2 + 2 && Math.abs(t[1] - p[1]) < 12) {
        end = [t[0] + (p[0] < t[0] ? -w / 2 - 1 : w / 2 + 1), t[1]];
      } else {
        end = [t[0], t[1] + (p[1] > t[1] ? fs * 0.65 : -fs * 0.65)];
      }
      var kids = [{ type: 'line', shape: { x1: p[0], y1: p[1], x2: end[0], y2: end[1] }, style: { stroke: '#444', lineWidth: 0.6 } }];
      if (l[0].charAt(0) !== '~') {
        kids.push({ type: 'text', style: { text: name, x: t[0], y: t[1], textAlign: 'center', textVerticalAlign: 'middle',
          align: 'center', verticalAlign: 'middle', font: fs + 'px "' + FONT + '"', fill: '#111' } });
      }
      return { type: 'group', children: kids };
    } };
}

var LX = { left: 232.7, lw: 200.6, right: 439.3, rw: 199.7, cb: 641.7, cbw: 11.6 };
var YR = [-0.0405, 0.041];
function fmtLoad(v) { return v === 0 ? '0' : v.toFixed(2); }
function ppmAxis(min, max, ticks) {
  return { type: 'value', min: min, max: max, inverse: true, splitLine: { show: false }, axisLine: { show: false },
    axisTick: { show: true, inside: true, length: 3, customValues: ticks, lineStyle: { color: '#000' } },
    axisLabel: { customValues: ticks, margin: 4, fontSize: 13, color: '#000', fontFamily: FONT } };
}
function loadAxis(first) {
  return { type: 'value', min: YR[0], max: YR[1], splitLine: { show: false }, axisLine: { show: false },
    axisTick: { show: true, inside: true, length: 3, customValues: [-0.02, 0, 0.02], lineStyle: { color: '#000' } },
    axisLabel: { show: first, customValues: [-0.02, 0, 0.02], rotate: 90, margin: 6, fontSize: 11, color: '#000',
      fontFamily: FONT, formatter: fmtLoad },
    name: first ? 'Loading' : '', nameLocation: 'middle', nameGap: 28, nameTextStyle: txt(14) };
}
function loadingPanel(c) {
  var gl = addPanel({ left: LX.left, top: c.top, width: LX.lw, height: c.h, show: true, borderColor: '#000', borderWidth: 1.2 },
    ppmAxis(5.5, 9.5, [9, 8, 7, 6]), loadAxis(true));
  var gr = addPanel({ left: LX.right, top: c.top, width: LX.rw, height: c.h, show: true, borderColor: '#000', borderWidth: 1.2 },
    ppmAxis(0.5, 4.5, [4, 3, 2, 1]), loadAxis(false));
  var idx = [];
  idx.push(addSeries(noiseSeries(gl, 9.5, c.noiseL, c.corrL)));
  idx.push(addSeries(peakSeries(gl, c.peaksL)));
  idx.push(addSeries(noiseSeries(gr, 4.5, c.noiseR, c.corrR)));
  idx.push(addSeries(peakSeries(gr, c.peaksR)));
  addSeries(labelSeries(gl, c.labelsL, c.lfs));
  addSeries(labelSeries(gr, c.labelsR, c.lfs));
  addPanel({ left: LX.cb, top: c.top, width: LX.cbw, height: c.h, show: true, borderColor: '#000', borderWidth: 0.8, z: 10 },
    { type: 'value', show: false, min: 0, max: 1 },
    { type: 'value', position: 'right', min: 0, max: 1, splitLine: { show: false }, axisLine: { show: false }, axisTick: { show: false },
      axisLabel: { customValues: [0, 0.2, 0.4, 0.6, 0.8, 1], formatter: fmt1, margin: 6, fontSize: 10, color: '#000', fontFamily: FONT },
      name: 'Correlation Coefficients', nameLocation: 'middle', nameGap: 27, nameRotate: 90, nameTextStyle: txt(13) });
  visualMaps.push({ type: 'continuous', seriesIndex: idx, dimension: 2, min: 0, max: 1, inRange: { color: JET },
    calculable: false, orient: 'vertical', left: LX.cb, top: c.top, itemWidth: LX.cbw, itemHeight: c.h, padding: 0 });
  graphics.push(gtext(c.title, LX.left + 1, c.top - 5, '10px "' + FONT + '"'));
  graphics.push(gtext('δ¹H', 641, c.top + c.h + 19, '10px "' + FONT + '"'));
}
loadingPanel({ top: 209, h: 124, title: 'IR vs. Sham', lfs: 8, noiseL: eNoiseL, corrL: eCorrL, noiseR: eNoiseR, corrR: eCorrR,
  peaksL: ePeaksL, peaksR: ePeaksR, labelsL: eLabelsL, labelsR: eLabelsR });
loadingPanel({ top: 379, h: 128, title: 'IR+HROs vs. Sham', lfs: 7.5, noiseL: gNoiseL, corrL: gCorrL, noiseR: gNoiseR, corrR: gCorrR,
  peaksL: gPeaksL, peaksR: gPeaksR, labelsL: gLabelsL, labelsR: gLabelsR });
loadingPanel({ top: 552, h: 125, title: 'IR+HROs vs. IR', lfs: 7.5, noiseL: iNoiseL, corrL: iCorrL, noiseR: iNoiseR, corrR: iCorrR,
  peaksL: iPeaksL, peaksR: iPeaksR, labelsL: iLabelsL, labelsR: iLabelsR });

// ---------- heatmap ----------
var sampleIds = [];
groupNames.forEach(function (g) { for (var k = 1; k <= perGroup; k++) sampleIds.push(g + ' ' + k); });
var heatData = [];
heatValues.forEach(function (row, r) { row.forEach(function (v, c) { heatData.push([c, r, v]); }); });

var hm = addPanel({ left: 45, top: 715.6, width: 445, height: 298, show: false },
  { type: 'category', data: sampleIds, show: false },
  { type: 'category', data: metabolites, inverse: true, position: 'right', axisLine: { show: false }, axisTick: { show: false },
    axisLabel: { interval: 0, fontSize: 8, margin: 2, color: '#222', fontFamily: FONT } });
var hmIdx = addSeries({ type: 'heatmap', xAxisIndex: hm, yAxisIndex: hm, data: heatData, silent: true,
  itemStyle: { borderWidth: 0 }, emphasis: { disabled: true } });

var groupSpans = groupNames.map(function (g, k) { return [k * perGroup, (k + 1) * perGroup - 1, 0]; });
addSeries({ type: 'custom', xAxisIndex: hm, yAxisIndex: hm, data: groupSpans, encode: { x: [0, 1], y: 2 }, clip: false, silent: true,
  renderItem: function (params, api) {
    var a = api.coord([api.value(0), 0]), b = api.coord([api.value(1), 0]);
    var cs = params.coordSys, y = cs.y + cs.height + 6;
    return { type: 'group', children: [
      { type: 'line', shape: { x1: a[0], y1: y, x2: b[0], y2: y }, style: { stroke: '#000', lineWidth: 1 } },
      { type: 'text', style: { text: groupNames[params.dataIndex], x: (a[0] + b[0]) / 2, y: y + 9, textAlign: 'center',
        textVerticalAlign: 'middle', align: 'center', verticalAlign: 'middle', font: '11px "' + FONT + '"', fill: '#000' } }] };
  } });

var dg = addPanel({ left: 0, top: 715.6, width: 45, height: 298, show: false },
  { type: 'value', min: 0, max: 1.05, inverse: true, show: false },
  { type: 'value', min: 0.5, max: metabolites.length + 0.5, inverse: true, show: false });
var dendroSegs = [];
(function walk(n) {
  if (typeof n === 'number') return { y: n, h: 0 };
  var L = walk(n[1]), R = walk(n[2]);
  dendroSegs.push([L.h, L.y, n[0], L.y], [R.h, R.y, n[0], R.y], [n[0], L.y, n[0], R.y]);
  return { y: (L.y + R.y) / 2, h: n[0] };
})(dendroTree);
addSeries({ type: 'custom', xAxisIndex: dg, yAxisIndex: dg, data: dendroSegs, encode: { x: [0, 2], y: [1, 3] }, clip: false, silent: true,
  renderItem: function (params, api) {
    var a = api.coord([api.value(0), api.value(1)]), b = api.coord([api.value(2), api.value(3)]);
    return { type: 'line', shape: { x1: a[0], y1: a[1], x2: b[0], y2: b[1] }, style: { stroke: '#333', lineWidth: 1 } };
  } });

addPanel({ left: 652, top: 722, width: 8, height: 292, show: false },
  { type: 'value', show: false, min: 0, max: 1 },
  { type: 'value', position: 'right', min: -3, max: 4.1, splitLine: { show: false }, axisLine: { show: false }, axisTick: { show: false },
    axisLabel: { customValues: [-3, -2, -1, 0, 1, 2, 3, 4], margin: 4, fontSize: 11, color: '#000', fontFamily: FONT,
      formatter: function (v) { return v < 0 ? '\u2212' + Math.abs(v) : String(v); } } });
visualMaps.push({ type: 'continuous', seriesIndex: [hmIdx], min: -3, max: 4.1, inRange: { color: HEAT }, calculable: false,
  orient: 'vertical', left: 652, top: 722, itemWidth: 8, itemHeight: 292, padding: 0 });

// ---------- titles and panel letters ----------
var tf = '13px "' + FONT + '"', lf = 'bold 19px "' + FONT + '"';
graphics.push(gtext('PCA Scores Plot', 135, 7.5, tf, 'center'));
graphics.push(gtext('PLS-DA Scores Plot', 362.5, 7.5, tf, 'center'));
graphics.push(gtext('PCoA Score Plot', 571.7, 7.5, tf, 'center'));
[['A', 3, 10.5], ['B', 243, 10.5], ['C', 465, 11], ['D', 1, 193.5], ['E', 212.6, 193.5], ['F', 1, 366], ['G', 199, 366],
 ['H', 1, 541.5], ['I', 199, 541.5], ['J', 5, 702]].forEach(function (p) { graphics.push(gtext(p[0], p[1], p[2], lf)); });

var chart = echarts.init(document.getElementById('main'), null, { renderer: 'canvas' });
chart.setOption({
  animation: false,
  backgroundColor: '#fff',
  textStyle: { fontFamily: FONT },
  grid: grids,
  xAxis: xAxes,
  yAxis: yAxes,
  visualMap: visualMaps,
  legend: legends,
  series: series,
  graphic: { elements: graphics }
});
</script>
</body>
</html>
